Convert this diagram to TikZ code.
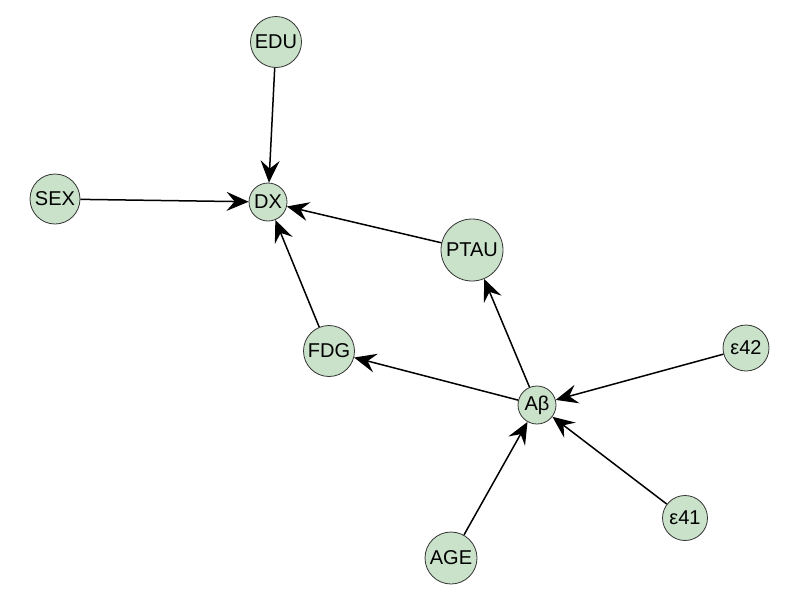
\documentclass[tikz,border=0pt]{standalone}
\usepackage{fontspec}
\setmainfont{Liberation Sans}
\usetikzlibrary{arrows.meta}
\begin{document}
\begin{tikzpicture}[x=1pt,y=-1pt,
  var/.style={circle,draw=black!80,line width=0.8pt,fill={rgb,255:red,201;green,226;blue,201},inner sep=0pt,font=\fontsize{20}{22}\selectfont},
  edge/.style={line width=1.5pt,-{Stealth[length=22pt,width=19pt,inset=8pt]}}]
\useasboundingbox (0,0) rectangle (800,600);
\node[var,minimum size=51pt] (EDU) at (276,42) {EDU};
\node[var,minimum size=50pt] (SEX) at (55,199) {SEX};
\node[var,minimum size=38pt] (DX) at (268,202) {DX};
\node[var,minimum size=62pt] (PTAU) at (472,250) {PTAU};
\node[var,minimum size=51pt] (FDG) at (329,351) {FDG};
\node[var,minimum size=38pt] (AB) at (537,405) {Aβ};
\node[var,minimum size=46pt] (E42) at (746,348) {ε42};
\node[var,minimum size=45pt] (E41) at (685,518) {ε41};
\node[var,minimum size=52pt] (AGE) at (451,558) {AGE};
\draw[edge] (EDU) -- (DX);
\draw[edge] (SEX) -- (DX);
\draw[edge] (PTAU) -- (DX);
\draw[edge] (FDG) -- (DX);
\draw[edge] (AB) -- (PTAU);
\draw[edge] (AB) -- (FDG);
\draw[edge] (E42) -- (AB);
\draw[edge] (E41) -- (AB);
\draw[edge] (AGE) -- (AB);
\end{tikzpicture}
\end{document}
